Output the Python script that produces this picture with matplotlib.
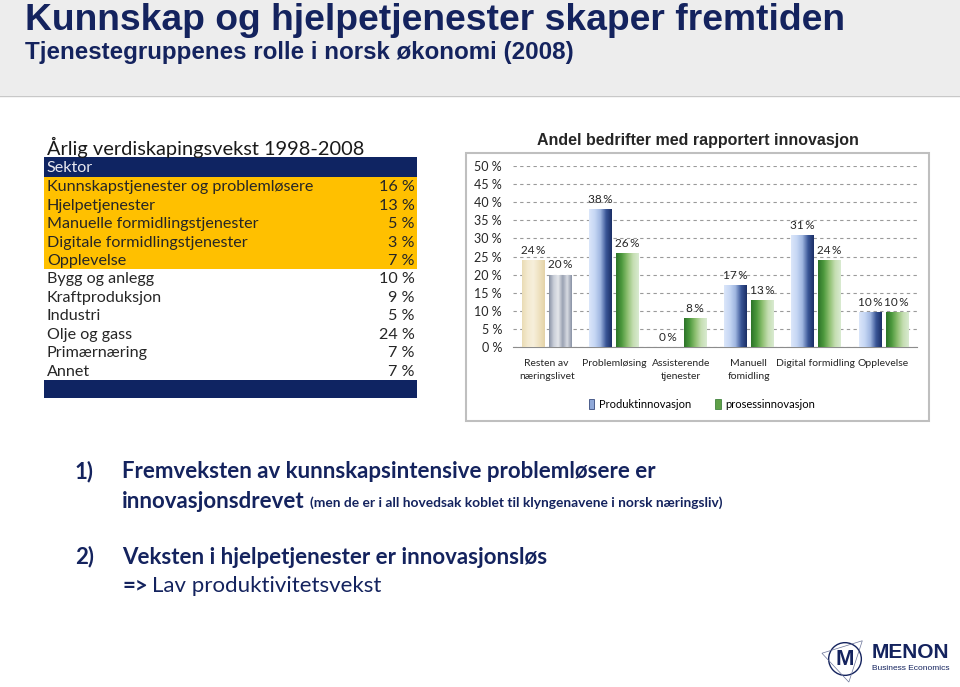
import numpy as np
import matplotlib
matplotlib.use("Agg")
import matplotlib.pyplot as plt
from matplotlib.patches import Rectangle, Circle, Polygon, Patch
from matplotlib.colors import LinearSegmentedColormap

W, H = 960, 687
NAVY = "#14235e"
CAL = ["Lato", "DejaVu Sans"]
ARIAL = ["Liberation Sans", "DejaVu Sans"]

# table data
sectors = ["Kunnskapstjenester og problemløsere", "Hjelpetjenester",
           "Manuelle formidlingstjenester", "Digitale formidlingstjenester",
           "Opplevelse", "Bygg og anlegg", "Kraftproduksjon", "Industri",
           "Olje og gass", "Primærnæring", "Annet"]
growth = [16, 13, 5, 3, 7, 10, 9, 5, 24, 7, 7]
n_service = 5

# bar chart data
categories = ["Resten av\nnæringslivet", "Problemløsing", "Assisterende\ntjenester",
              "Manuell\nfomidling", "Digital formidling", "Opplevelse"]
produkt = [0.24, 0.38, 0.0, 0.17, 0.31, 0.097]
prosess = [0.20, 0.26, 0.08, 0.13, 0.24, 0.097]
series_names = ["Produktinnovasjon", "prosessinnovasjon"]


def fx(px):
    return px / W


def fy(py):
    return 1 - py / H


fig = plt.figure(figsize=(9.6, 6.87), dpi=100)
fig.patch.set_facecolor("white")

# header band
fig.patches.append(Rectangle((0, fy(96)), 1, 96 / H, transform=fig.transFigure,
                             facecolor="#ededed", edgecolor="none", zorder=-2))
fig.lines.append(plt.Line2D([0, 1], [fy(96), fy(96)], transform=fig.transFigure,
                            color="#c8c8c8", lw=1, zorder=-2))
fig.text(fx(25), fy(21), "Kunnskap og hjelpetjenester skaper fremtiden",
         family=ARIAL, weight="bold", fontsize=26.8, color=NAVY, va="center")
fig.text(fx(25), fy(52), "Tjenestegruppenes rolle i norsk økonomi (2008)",
         family=ARIAL, weight="bold", fontsize=17.4, color=NAVY, va="center")

# ---- table ----
top, hdr_h, row_h, foot_h = 157, 20, 18.45, 18
bottom = top + hdr_h + row_h * len(sectors) + foot_h
axt = fig.add_axes([fx(44), fy(bottom), fx(417) - fx(44), (bottom - top) / H])
axt.set_xlim(0, 1)
axt.set_ylim(bottom, top)
axt.axis("off")
axt.add_patch(Rectangle((0, top), 1, hdr_h, facecolor="#0f2462", edgecolor="none"))
axt.text(0.008, top + hdr_h / 2 + 1, "Sektor", family=CAL, fontsize=11.6, color="#e8e8f0", va="center")
for i, (s, g) in enumerate(zip(sectors, growth)):
    y0 = top + hdr_h + i * row_h
    if i < n_service:
        axt.add_patch(Rectangle((0, y0), 1, row_h, facecolor="#ffc000", edgecolor="none"))
    axt.text(0.008, y0 + row_h / 2 + 1, s, family=CAL, fontsize=11.6, color="#262626", va="center")
    axt.text(0.993, y0 + row_h / 2 + 1, f"{g} %", family=CAL, fontsize=11.6, color="#262626",
             va="center", ha="right")
axt.add_patch(Rectangle((0, bottom - foot_h), 1, foot_h, facecolor="#0f2462", edgecolor="none"))
fig.text(fx(47), fy(147), "Årlig verdiskapingsvekst 1998-2008", family=CAL, fontsize=14.4,
         color="#1a1a1a", va="center")

# ---- bar chart ----
fig.patches.append(Rectangle((fx(466), fy(421)), fx(929) - fx(466), (421 - 153) / H,
                             transform=fig.transFigure, facecolor="white",
                             edgecolor="#bfbfbf", lw=1.5, zorder=-1))
fig.text(fx(698), fy(140), "Andel bedrifter med rapportert innovasjon", family=ARIAL,
         weight="bold", fontsize=11.5, color="#262626", ha="center", va="center")

ax = fig.add_axes([fx(513), fy(347), fx(917) - fx(513), (347 - 166) / H])
ax.set_facecolor("none")
x = np.arange(len(categories))
off, bw = 0.2, 0.33

cm_blue = LinearSegmentedColormap.from_list("b", ["#dbe6fa", "#c6d7f4", "#9fb6e0", "#3a5697", "#1b2f66"])
cm_green = LinearSegmentedColormap.from_list("g", ["#2c7429", "#4e9a3e", "#8fc072", "#c5deb2", "#d9ead0"])
cm_beige = LinearSegmentedColormap.from_list("y", ["#eadcb5", "#f4ead0", "#f7efdc", "#efe2c0", "#e4d3a8"])
cm_gray = LinearSegmentedColormap.from_list("k", ["#8a93a6", "#c9ced8", "#e4e6ea", "#9aa2b3", "#d8dbe2", "#8a93a6"])
grad = np.linspace(0, 1, 64).reshape(1, -1)

b1 = ax.bar(x - off, produkt, bw, color="none", zorder=3)
b2 = ax.bar(x + off, prosess, bw, color="none", zorder=3)
for i, (r1, r2) in enumerate(zip(b1, b2)):
    c1 = cm_beige if i == 0 else cm_blue
    c2 = cm_gray if i == 0 else cm_green
    for r, cm in ((r1, c1), (r2, c2)):
        h = r.get_height()
        if h <= 0:
            continue
        im = ax.imshow(grad, cmap=cm, aspect="auto", zorder=3,
                       extent=[r.get_x(), r.get_x() + r.get_width(), 0, h])
        im.set_clip_path(r)
for bars, vals in ((b1, produkt), (b2, prosess)):
    for r, v in zip(bars, vals):
        ax.annotate(f"{v * 100:.0f}\u2009%", (r.get_x() + r.get_width() / 2, v),
                    xytext=(0, 3), textcoords="offset points", ha="center", va="bottom",
                    family=CAL, fontsize=8.5, color="#262626")

ax.set_xlim(-0.5, len(categories) - 0.5)
ax.set_ylim(0, 0.5)
ticks = np.arange(0, 0.51, 0.05)
ax.set_yticks(ticks)
ax.set_yticklabels([f"{t * 100:.0f} %" for t in ticks], family=CAL, fontsize=9, color="#262626")
ax.yaxis.grid(True, ls=(0, (3, 3)), color="#9a9a9a", lw=0.8)
ax.set_axisbelow(True)
ax.tick_params(axis="y", length=0, pad=8)
ax.tick_params(axis="x", length=0, pad=9)
ax.set_xticks(x)
ax.set_xticklabels(categories, family=CAL, fontsize=7.5, color="#262626", linespacing=1.5, va="top")
for s in ("top", "right", "left"):
    ax.spines[s].set_visible(False)
ax.spines["bottom"].set_color("#8c8c8c")

handles = [Patch(facecolor="#8fa8d8", edgecolor="#1b2f66", lw=0.5),
           Patch(facecolor="#5fa048", edgecolor="#2c7429", lw=0.5)]
fig.legend(handles, series_names, loc="center", bbox_to_anchor=(fx(702), fy(404)),
           ncol=2, frameon=False, prop={"family": CAL, "size": 8},
           handlelength=0.5, handleheight=1.0, handletextpad=0.4, columnspacing=2.2)

# ---- bottom text ----
fig.text(fx(75), fy(472), "1)", family=CAL, weight="bold", fontsize=16, color=NAVY, va="center")
fig.text(fx(122), fy(472), "Fremveksten av kunnskapsintensive problemløsere er", family=CAL,
         weight="bold", fontsize=16, color=NAVY, va="center")
fig.text(fx(122), fy(501), "innovasjonsdrevet", family=CAL, weight="bold", fontsize=16,
         color=NAVY, va="center")
fig.text(fx(310), fy(503), "(men de er i all hovedsak koblet til klyngenavene i norsk næringsliv)",
         family=CAL, weight="bold", fontsize=9.9, color=NAVY, va="center")
fig.text(fx(75), fy(557), "2)", family=CAL, weight="bold", fontsize=16, color=NAVY, va="center")
fig.text(fx(122), fy(557), "Veksten i hjelpetjenester er innovasjonsløs", family=CAL,
         weight="bold", fontsize=16, color=NAVY, va="center")
fig.text(fx(122), fy(586), "=>", family=CAL, weight="bold", fontsize=16, color=NAVY, va="center")
fig.text(fx(152), fy(586), "Lav produktivitetsvekst", family=CAL, fontsize=16, color=NAVY, va="center")

# ---- logo ----
axl = fig.add_axes([fx(820), fy(684), 50 / W, 50 / H])
axl.set_xlim(-1.3, 1.3)
axl.set_ylim(-1.3, 1.3)
axl.set_aspect("equal")
axl.axis("off")
axl.add_patch(Circle((0, 0), 0.85, fill=False, ec=NAVY, lw=1))
axl.add_patch(Polygon([[-1.2, 0.3], [0.9, 0.95], [0.2, -1.2]], closed=True, fill=False, ec="#6a7398", lw=0.5))
axl.text(0, -0.05, "M", ha="center", va="center", family=ARIAL, weight="bold", fontsize=16, color=NAVY)
fig.text(fx(872), fy(652), "MENON", family=ARIAL, weight="bold", fontsize=15, color=NAVY, va="center")
fig.text(fx(872), fy(668), "Business Economics", family=ARIAL, fontsize=6, color=NAVY, va="center")

fig.savefig("out.png", dpi=100)
